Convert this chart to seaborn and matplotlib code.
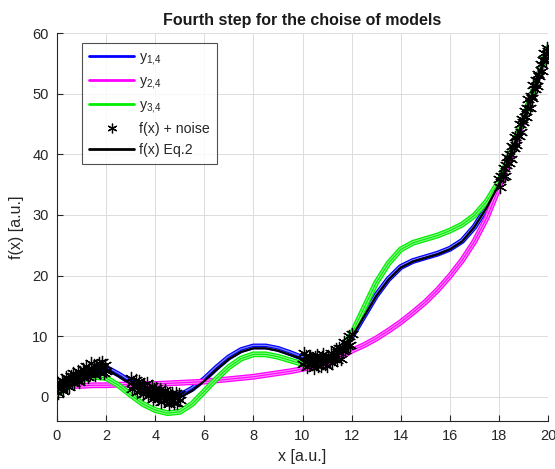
import numpy as np
import pandas as pd
import matplotlib
matplotlib.use("Agg")
import matplotlib.pyplot as plt
import seaborn as sns
from matplotlib.lines import Line2D

# ---------------- data ----------------
x_model = [0.0, 0.5, 1.0, 1.5, 2.0, 2.5, 3.0, 3.5, 4.0, 4.5, 5.0, 5.5, 6.0, 6.5, 7.0,
           7.5, 8.0, 8.5, 9.0, 9.5, 10.0, 10.5, 11.0, 11.5, 12.0, 12.5, 13.0, 13.5,
           14.0, 14.5, 15.0, 15.5, 16.0, 16.5, 17.0, 17.5, 18.0, 18.5, 19.0, 19.5, 20.0]

f_true = [1.5, 2.6, 3.6, 4.5, 4.6, 3.4, 2.1, 1.2, 0.4, -0.2, -0.1, 1.0, 2.6, 4.5, 6.2,
          7.4, 8.0, 8.0, 7.6, 6.9, 6.2, 5.8, 6.0, 7.2, 9.8, 13.2, 16.6, 19.3,
          21.3, 22.3, 22.9, 23.5, 24.3, 25.6, 28.0, 31.2, 35.0, 40.2, 45.8, 51.6, 57.5]

y_14 = [1.6, 2.7, 3.7, 4.6, 4.8, 3.7, 2.4, 1.5, 0.7, 0.1, 0.2, 1.3, 2.9, 4.8, 6.5,
        7.7, 8.3, 8.3, 7.9, 7.2, 6.4, 5.9, 6.1, 7.3, 9.9, 13.3, 16.7, 19.4,
        21.4, 22.4, 23.0, 23.6, 24.4, 25.7, 28.0, 31.2, 35.0, 40.2, 45.8, 51.6, 57.5]

y_24 = [1.8, 1.8, 1.8, 1.9, 1.9, 2.0, 2.0, 2.1, 2.1, 2.2, 2.3, 2.4, 2.5, 2.7, 2.9,
        3.1, 3.3, 3.6, 3.9, 4.2, 4.6, 5.0, 5.6, 6.3, 7.6, 8.5, 9.6, 10.9,
        12.3, 13.9, 15.6, 17.6, 19.9, 22.5, 25.6, 29.5, 34.5, 40.0, 45.8, 51.6, 57.5]

y_34 = [0.5, 1.8, 2.8, 3.3, 3.1, 1.9, 0.3, -1.2, -2.2, -2.7, -2.5, -1.2, 0.9, 3.0, 4.9,
        6.3, 7.0, 7.0, 6.6, 6.0, 5.4, 5.3, 5.9, 7.5, 10.3, 14.6, 18.8, 22.0,
        24.3, 25.4, 26.0, 26.6, 27.4, 28.4, 29.9, 32.2, 35.5, 40.5, 46.0, 51.7, 57.5]

x_noise_1 = [0.00, 0.05, 0.10, 0.15, 0.20, 0.25, 0.30, 0.35, 0.40, 0.45, 0.50, 0.55,
             0.60, 0.65, 0.70, 0.75, 0.80, 0.85, 0.90, 0.95, 1.00, 1.05, 1.10, 1.15,
             1.20, 1.25, 1.30, 1.35, 1.40, 1.45, 1.50, 1.55, 1.60, 1.65, 1.70, 1.75,
             1.80, 1.85, 1.90, 1.95, 2.00]
y_noise_1 = [2.5, 0.7, 2.1, 1.5, 2.7, 0.9, 2.4, 3.2, 1.8, 3.0, 1.6, 3.4,
             2.6, 4.0, 2.2, 3.4, 2.7, 4.3, 2.4, 4.1, 3.2, 4.6, 3.1, 4.0,
             5.0, 3.2, 4.6, 3.7, 5.5, 4.2, 5.2, 3.6, 5.1, 4.2, 5.6, 3.9,
             5.0, 5.7, 4.0, 5.2, 4.2]

x_noise_2 = [3.00, 3.05, 3.10, 3.15, 3.20, 3.25, 3.30, 3.35, 3.40, 3.45, 3.50, 3.55,
             3.60, 3.65, 3.70, 3.75, 3.80, 3.85, 3.90, 3.95, 4.00, 4.05, 4.10, 4.15,
             4.20, 4.25, 4.30, 4.35, 4.40, 4.45, 4.50, 4.55, 4.60, 4.65, 4.70, 4.75,
             4.80, 4.85, 4.90, 4.95, 5.00]
y_noise_2 = [3.1, 1.2, 2.4, 1.7, 2.7, 0.8, 2.0, 2.6, 1.0, 2.0, 0.4, 2.0,
             1.0, 2.2, 0.2, 1.2, 0.3, 1.7, -0.4, 1.2, 0.1, 1.4, -0.3, 0.4,
             1.2, -0.8, 0.5, -0.6, 1.1, -0.4, 0.6, -1.2, 0.3, -0.7, 0.7, -1.1,
             0.0, 0.7, -1.0, 0.4, -0.5]

x_noise_3 = [10.00, 10.05, 10.10, 10.15, 10.20, 10.25, 10.30, 10.35, 10.40, 10.45,
             10.50, 10.55, 10.60, 10.65, 10.70, 10.75, 10.80, 10.85, 10.90, 10.95,
             11.00, 11.05, 11.10, 11.15, 11.20, 11.25, 11.30, 11.35, 11.40, 11.45,
             11.50, 11.55, 11.60, 11.65, 11.70, 11.75, 11.80, 11.85, 11.90, 11.95, 12.00]
y_noise_3 = [5.4, 7.2, 5.8, 6.7, 4.9, 6.4, 6.8, 5.4, 6.0, 4.8,
             6.6, 5.4, 6.9, 5.1, 6.1, 5.0, 6.5, 7.0, 5.4, 6.1,
             5.0, 6.8, 6.0, 7.2, 5.6, 7.1, 6.3, 7.9, 6.1, 7.4,
             8.0, 6.3, 8.0, 7.6, 9.1, 7.7, 8.8, 8.4, 10.1, 8.6, 10.4]

x_noise_4 = [18.00, 18.05, 18.10, 18.15, 18.20, 18.25, 18.30, 18.35, 18.40, 18.45,
             18.50, 18.55, 18.60, 18.65, 18.70, 18.75, 18.80, 18.85, 18.90, 18.95,
             19.00, 19.05, 19.10, 19.15, 19.20, 19.25, 19.30, 19.35, 19.40, 19.45,
             19.50, 19.55, 19.60, 19.65, 19.70, 19.75, 19.80, 19.85, 19.90, 19.95, 20.00]
y_noise_4 = [36.0, 34.6, 36.4, 36.2, 37.8, 36.4, 38.3, 39.5, 38.5, 40.1,
             39.2, 41.4, 41.1, 42.9, 41.6, 43.2, 43.0, 45.0, 43.6, 45.8,
             45.4, 47.2, 46.2, 47.6, 49.1, 47.7, 49.6, 49.2, 51.5, 50.7,
             52.3, 51.2, 53.3, 52.9, 54.9, 53.8, 55.5, 56.7, 55.6, 57.5, 57.1]

x_ticks = [0, 2, 4, 6, 8, 10, 12, 14, 16, 18, 20]
y_ticks = [0, 10, 20, 30, 40, 50, 60]

labels = [r"$\mathregular{y_{1{,}4}}$", r"$\mathregular{y_{2{,}4}}$",
          r"$\mathregular{y_{3{,}4}}$", "f(x) + noise", "f(x) Eq.2"]
title = "Fourth step for the choise of models"
xlabel = "x [a.u.]"
ylabel = "f(x) [a.u.]"

# ---------------- style ----------------
sns.set_theme(style="white")
plt.rcParams['font.family'] = ['Liberation Sans', 'DejaVu Sans']
plt.rcParams['mathtext.fontset'] = 'custom'
plt.rcParams['mathtext.rm'] = 'Liberation Sans'

fig = plt.figure(figsize=(5.55, 4.69), dpi=100)
ax = fig.add_axes([0.1027, 0.1023, 0.8847, 0.8273])

colors = {"y14": "#0000ff", "y24": "#ff00ff", "y34": "#00ee00"}

def band(y, c, z):
    sns.lineplot(x=x_model, y=y, ax=ax, color=c, lw=4.2, sort=False,
                 estimator=None, zorder=z, legend=False)
    sns.lineplot(x=x_model, y=y, ax=ax, color="white", lw=2.4, alpha=0.55,
                 sort=False, estimator=None, zorder=z, legend=False)
    sns.lineplot(x=x_model, y=y, ax=ax, color=c, lw=0.8, sort=False,
                 estimator=None, zorder=z, legend=False)

band(y_14, colors["y14"], 2)
band(y_24, colors["y24"], 3)
band(y_34, colors["y34"], 4)

for xs, ys in [(x_noise_1, y_noise_1), (x_noise_2, y_noise_2),
               (x_noise_3, y_noise_3), (x_noise_4, y_noise_4)]:
    sns.lineplot(x=xs, y=ys, ax=ax, color="black", linestyle="",
                 marker=(6, 2, 0), markersize=9.5, markeredgewidth=0.9,
                 markeredgecolor="black", markerfacecolor="black",
                 sort=False, estimator=None, zorder=5, legend=False)

sns.lineplot(x=x_model, y=f_true, ax=ax, color="black", lw=1.6, sort=False,
             estimator=None, zorder=6, legend=False)

ax.set_xlim(0, 20)
ax.set_ylim(-4, 60)
ax.set_xticks(x_ticks)
ax.set_yticks(y_ticks)
ax.grid(True, color="#dcdcdc", lw=0.7)
ax.set_axisbelow(True)
for s in ["top", "right"]:
    ax.spines[s].set_visible(False)
for s in ["left", "bottom"]:
    ax.spines[s].set_color("#262626")
    ax.spines[s].set_linewidth(0.8)
ax.tick_params(axis="both", direction="in", length=4, width=0.8,
               colors="#262626", labelsize=10.5, pad=6,
               bottom=True, left=True)

ax.set_title(title, fontsize=11.5, fontweight="bold", color="#1a1a1a", pad=6)
ax.set_xlabel(xlabel, fontsize=11.5, color="#262626", labelpad=4)
ax.set_ylabel(ylabel, fontsize=11.5, color="#262626", labelpad=6)

handles = [
    Line2D([], [], color=colors["y14"], lw=2),
    Line2D([], [], color=colors["y24"], lw=2),
    Line2D([], [], color=colors["y34"], lw=2),
    Line2D([], [], color="black", ls="", marker=(6, 2, 0), markersize=7, mew=0.9),
    Line2D([], [], color="black", lw=2),
]
leg = ax.legend(handles, labels, loc="upper left", bbox_to_anchor=(0.051, 0.974),
                borderaxespad=0, frameon=True, fancybox=False, edgecolor="#262626",
                fontsize=10.2, handlelength=3.2, handletextpad=0.3, labelspacing=0.5,
                borderpad=0.5)
leg.get_frame().set_linewidth(0.8)

fig.savefig("out.png", dpi=100)
